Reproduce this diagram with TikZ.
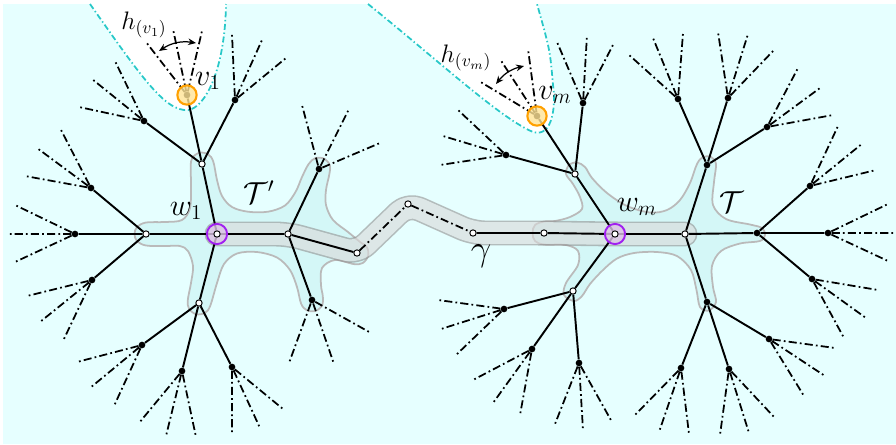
\documentclass[tikz,border=0pt]{standalone}
\usepackage{amsmath}
\usepackage{amssymb}
\usepackage{tikz}
\usepackage{xcolor}
\usetikzlibrary{arrows.meta, positioning}

\definecolor{bgcyan}{RGB}{230,255,255}
\definecolor{blobcyan}{RGB}{212,247,247}
\definecolor{edgecyan}{RGB}{40,200,200}
\definecolor{ringpurple}{RGB}{160,32,240}
\definecolor{ringlilac}{RGB}{220,195,230}
\definecolor{ringorange}{RGB}{255,160,0}
\definecolor{ringyellow}{RGB}{255,228,150}

\pgfdeclarelayer{back}
\pgfdeclarelayer{edges}
\pgfsetlayers{back,edges,main}

% three dash-dotted leaves out of one node
\newcommand{\leaffan}[4]{%
  \coordinate (#1-a) at #2;
  \coordinate (#1-b) at #3;
  \coordinate (#1-c) at #4;
  \draw[leafedge] (#1) -- (#1-a) (#1) -- (#1-b) (#1) -- (#1-c);
}

\begin{document}
\begin{tikzpicture}[x=0.02cm, y=-0.02cm,
  wnode/.style={circle,draw,fill=white,line width=0.55pt,inner sep=0pt,minimum size=3.6pt},
  bnode/.style={circle,fill=black,inner sep=0pt,minimum size=3.8pt},
  pring/.style={circle,draw=ringpurple,line width=1.1pt,fill=ringlilac,fill opacity=0.8,inner sep=0pt,minimum size=11.5pt},
  oring/.style={circle,draw=ringorange,line width=1.2pt,fill=ringyellow,fill opacity=0.8,inner sep=0pt,minimum size=11pt},
  treeedge/.style={line width=1.1pt},
  leafedge/.style={line width=1pt,dash pattern=on 4.6pt off 1.8pt on 1pt off 1.8pt},
  cyanline/.style={draw=edgecyan,line width=1pt,dash pattern=on 3.4pt off 1.5pt on 0.8pt off 1.5pt},
  blob/.style={fill=blobcyan,draw=black!27,line width=1pt},
  lab/.style={inner sep=0pt,font=\fontsize{17}{20}\selectfont},
  hlab/.style={inner sep=0pt,font=\fontsize{14}{17}\selectfont},
  harrow/.style={{Stealth[length=4.5pt,width=3.8pt]}-{Stealth[length=4.5pt,width=3.8pt]},line width=0.7pt}]
  \useasboundingbox (0,0) rectangle (896,444);

  % left tree
  \node[bnode] (l0) at (75,234) {};
  \node[wnode] (a) at (146,234) {};
  \node[bnode] (p3) at (91,188) {};
  \node[bnode] (p4) at (92,280) {};
  \node[wnode] (b) at (202,164) {};
  \node[bnode] (p1) at (144,121) {};
  \node[bnode] (p2) at (235,100) {};
  \node[bnode] (v1) at (187,95) {};
  \node[oring] (v1ring) at (187,95) {};
  \node[wnode] (d) at (199,303) {};
  \node[bnode] (p5) at (142,345) {};
  \node[bnode] (p6) at (182,371) {};
  \node[bnode] (p7) at (232,367) {};
  \node[pring] (w1ring) at (217,234) {};
  \node[wnode] (w1) at (217,234) {};
  \node[wnode] (c) at (288,234) {};
  \node[bnode] (x1) at (319,169) {};
  \node[bnode] (x2) at (312,300) {};
  % path gamma
  \node[wnode] (e) at (357,253) {};
  \node[wnode] (f) at (408,204) {};
  \node[wnode] (g) at (473,233) {};
  \node[wnode] (h) at (544,233) {};
  % right tree
  \node[pring] (wmring) at (615,234) {};
  \node[wnode] (wm) at (615,234) {};
  \node[wnode] (v) at (575,174) {};
  \node[wnode] (w) at (573,291) {};
  \node[wnode] (i) at (685,234) {};
  \node[bnode] (vm) at (537,116) {};
  \node[oring] (vmring) at (537,116) {};
  \node[bnode] (x) at (506,155) {};
  \node[bnode] (y) at (583,103) {};
  \node[bnode] (z) at (504,309) {};
  \node[bnode] (aa) at (532,349) {};
  \node[bnode] (ab) at (579,363) {};
  \node[bnode] (r) at (707,165) {};
  \node[bnode] (s) at (678,99) {};
  \node[bnode] (t) at (728,98) {};
  \node[bnode] (u) at (767,127) {};
  \node[bnode] (j) at (757,233) {};
  \node[bnode] (k) at (828,233) {};
  \node[bnode] (l) at (812,279) {};
  \node[bnode] (m) at (810,186) {};
  \node[bnode] (n) at (707,302) {};
  \node[bnode] (o) at (769,339) {};
  \node[bnode] (p) at (681,368) {};
  \node[bnode] (q) at (729,369) {};

  % labels
  \node[lab] (lw1) at (186,211) {$w_1$};
  \node[lab] (lwm) at (637,207) {$w_m$};
  \node[lab] (lv1) at (208,81) {$v_1$};
  \node[lab] (lvm) at (555,95) {$v_m$};
  \node[lab] (ltp) at (259,192) {$\mathcal{T}'$};
  \node[lab] (lt) at (732,202) {$\mathcal{T}$};
  \node[inner sep=0pt,font=\fontsize{20}{24}\selectfont] (lgamma) at (481,256) {$\gamma$};
  \node[hlab] (lh1) at (144,25) {$h_{(v_1)}$};
  \node[hlab] (lhm) at (466,58) {$h_{(v_m)}$};
  \coordinate (h1a) at (159,51);
  \coordinate (h1b) at (196,43);
  \coordinate (hma) at (496,84);
  \coordinate (hmb) at (524,66);
  \draw[harrow] (h1a) to[bend left=21] (h1b);
  \draw[harrow] (hma) to[bend left=19] (hmb);

  \begin{pgfonlayer}{back}
    % background and the two white cones
    \fill[bgcyan] (3,4) rectangle (896,444);
    \fill[white] (90,4) .. controls (140,75) and (165,112) .. (188,110)
      .. controls (205,108) and (225,70) .. (226,4) -- cycle;
    \draw[cyanline] (90,4) .. controls (140,75) and (165,112) .. (188,110)
      .. controls (205,108) and (225,70) .. (226,4);
    \fill[white] (368,4) .. controls (440,62) and (500,118) .. (533,132)
      .. controls (553,138) and (556,105) .. (553,85) .. controls (550,50) .. (537,4) -- cycle;
    \draw[cyanline] (368,4) .. controls (440,62) and (500,118) .. (533,132)
      .. controls (553,138) and (556,105) .. (553,85) .. controls (550,50) .. (537,4);
    % subtree T'
    \draw[blob] plot[smooth cycle, tension=0.55] coordinates {
      (134.5,234) (137,227) (146,222.5) (165,222) (182,220) (190,208) (191,185)
      (190.7,166.4) (192.3,157.8) (199.6,152.7) (208.2,154.3) (213.3,161.6) (217,180)
      (222,196) (232,207) (248,211.7) (268,211.7) (285,205.5) (295.5,192) (302,177)
      (308.6,164.1) (315.2,158.2) (324,158.6) (329.8,165.2) (329.4,173.9) (326,190)
      (326,205) (333,220) (348,232) (360,241.9) (367,247.3) (368.1,256) (362.7,263)
      (354,264.1) (335,260) (322,268) (321,285) (322.8,296.1) (322.4,304.9)
      (315.9,310.8) (307.1,310.4) (301.2,303.9) (297,287) (290,270) (277,257.5)
      (257,252) (237,253.5) (224,264) (217,283) (210.2,305.9) (204.9,312.9)
      (196.1,314.2) (189.1,308.9) (187.8,300.1) (191,283) (193,266) (188,251)
      (180,246) (165,246) (146,245.5) (137,241)};
    % subtree T
    \draw[blob] plot[smooth cycle, tension=0.55] coordinates {
      (532.5,233) (535,225) (544,221.5) (555,221) (570,217) (582,209) (580,197)
      (573,184) (566,174) (569,165) (577,162.5) (585,167) (592,178) (607,193)
      (627,206) (650,212.5) (667,210) (680,200) (690,183) (697,164) (703,157)
      (711,157) (716,164) (714,182) (713,205) (726,219) (750,224.5) (762,228)
      (765,235) (760,241) (740,243.5) (721,251) (712,266) (713,287) (716,302)
      (709,310.5) (700,307) (696.5,290) (691,270) (677,256) (657,252) (634,253)
      (617,258.5) (603,270) (590,284) (582,296) (574,301) (564,295) (566,283)
      (578,265) (578,251) (566,245) (544,244.5) (535,241)};
    % tube along gamma
    \begin{scope}[transparency group, opacity=0.62, rounded corners=7pt]
      \draw[black!42, line width=14.2pt, line cap=round, line join=round]
        (w1.center) -- (c.center) -- (e.center) -- (f.center) -- (g.center)
        -- (h.center) -- (wm.center) -- (i.center);
      \draw[black!15, line width=12.4pt, line cap=round, line join=round]
        (w1.center) -- (c.center) -- (e.center) -- (f.center) -- (g.center)
        -- (h.center) -- (wm.center) -- (i.center);
    \end{scope}
  \end{pgfonlayer}

  \begin{pgfonlayer}{edges}
    % solid tree edges
    \draw[treeedge] (a) -- (l0) (a) -- (p3) (a) -- (p4) (a) -- (w1)
      (w1) -- (b) (w1) -- (d) (w1) -- (c)
      (b) -- (v1) (b) -- (p1) (b) -- (p2)
      (d) -- (p5) (d) -- (p6) (d) -- (p7)
      (c) -- (x1) (c) -- (x2) (c) -- (e);
    \draw[leafedge] (e) -- (f) -- (g);
    \draw[treeedge] (g) -- (h) -- (wm);
    \draw[treeedge] (wm) -- (v) (wm) -- (w) (wm) -- (i)
      (v) -- (vm) (v) -- (x) (v) -- (y)
      (w) -- (z) (w) -- (aa) (w) -- (ab)
      (i) -- (r) (i) -- (n) (i) -- (j)
      (r) -- (s) (r) -- (t) (r) -- (u)
      (j) -- (k) (j) -- (l) (j) -- (m)
      (n) -- (o) (n) -- (p) (n) -- (q);
    % leaves
    \leaffan{l0}{(8,234)}{(15,205)}{(15,262)}
    \leaffan{p1}{(115,61)}{(92,79)}{(79,107)}
    \leaffan{p2}{(232,34)}{(262,40)}{(286,58)}
    \leaffan{p3}{(60,128)}{(37,148)}{(25,176)}
    \leaffan{p4}{(27,296)}{(40,322)}{(63,341)}
    \leaffan{p5}{(77,362)}{(90,388)}{(114,406)}
    \leaffan{p6}{(139,423)}{(166,436)}{(196,437)}
    \leaffan{p7}{(232,434)}{(260,428)}{(283,409)}
    \leaffan{v1}{(146,42)}{(173,29)}{(202,31)}
    \leaffan{x1}{(302,105)}{(349,109)}{(380,143)}
    \leaffan{x2}{(289,363)}{(334,364)}{(371,333)}
    \leaffan{x}{(458,110)}{(443,136)}{(440,165)}
    \leaffan{y}{(557,42)}{(587,35)}{(614,43)}
    \leaffan{vm}{(479,81)}{(500,59)}{(528,49)}
    \leaffan{z}{(438,300)}{(441,329)}{(456,355)}
    \leaffan{aa}{(473,380)}{(493,403)}{(520,415)}
    \leaffan{ab}{(555,424)}{(583,430)}{(612,422)}
    \leaffan{s}{(628,54)}{(653,38)}{(683,33)}
    \leaffan{t}{(718,32)}{(748,34)}{(774,50)}
    \leaffan{u}{(798,68)}{(820,88)}{(833,115)}
    \leaffan{m}{(838,126)}{(863,143)}{(876,170)}
    \leaffan{k}{(888,204)}{(896,233)}{(888,261)}
    \leaffan{l}{(878,290)}{(866,318)}{(844,338)}
    \leaffan{o}{(835,348)}{(825,376)}{(804,396)}
    \leaffan{p}{(634,416)}{(659,432)}{(689,434)}
    \leaffan{q}{(720,435)}{(749,433)}{(775,418)}
  \end{pgfonlayer}
\end{tikzpicture}
\end{document}
